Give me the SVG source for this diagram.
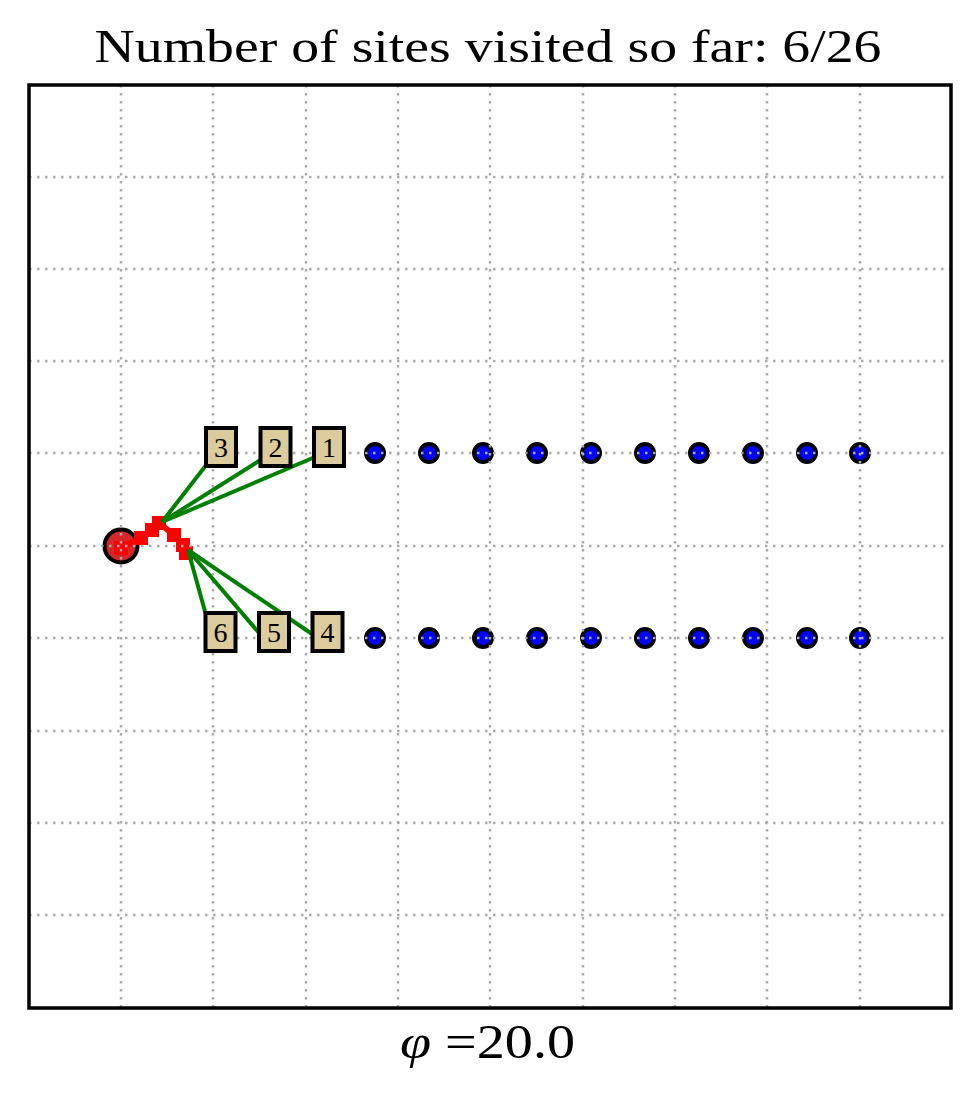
<svg xmlns="http://www.w3.org/2000/svg" width="980" height="1093" viewBox="0 0 980 1093">
<style>
.grid{stroke:#aaaaaa;stroke-width:2.5;stroke-dasharray:2.5,5.5;fill:none}
.site{fill:#0000ff;stroke:#000;stroke-width:4}
.box{fill:#dccb9d;stroke:#000;stroke-width:4}
.lbl{font-family:'Liberation Serif','DejaVu Serif',serif;font-size:28px;text-anchor:middle;fill:#000}
.conn{stroke:#008000;stroke-width:4;fill:none}
.sq{fill:#ff0000}
.ttl{font-family:'Liberation Serif','DejaVu Serif',serif;fill:#000}
</style>
<rect width="980" height="1093" fill="#fff"/>
<text class="ttl" x="488" y="62" font-size="47" text-anchor="middle" textLength="787" lengthAdjust="spacingAndGlyphs">Number of sites visited so far: 6/26</text>
<g id="sites">
<circle class="site" cx="375" cy="453" r="9"/><circle class="site" cx="429" cy="453" r="9"/><circle class="site" cx="483" cy="453" r="9"/><circle class="site" cx="537" cy="453" r="9"/><circle class="site" cx="591" cy="453" r="9"/><circle class="site" cx="645" cy="453" r="9"/><circle class="site" cx="699" cy="453" r="9"/><circle class="site" cx="753" cy="453" r="9"/><circle class="site" cx="807" cy="453" r="9"/><circle class="site" cx="860" cy="453" r="9"/>
<circle class="site" cx="375" cy="638" r="9"/><circle class="site" cx="429" cy="638" r="9"/><circle class="site" cx="483" cy="638" r="9"/><circle class="site" cx="537" cy="638" r="9"/><circle class="site" cx="591" cy="638" r="9"/><circle class="site" cx="645" cy="638" r="9"/><circle class="site" cx="699" cy="638" r="9"/><circle class="site" cx="753" cy="638" r="9"/><circle class="site" cx="807" cy="638" r="9"/><circle class="site" cx="860" cy="638" r="9"/>
</g>
<g id="start">
<circle cx="121" cy="546" r="16.5" fill="#d62728" stroke="#000" stroke-width="4"/>
</g>
<g id="walker">
<polyline points="121,548 141,538 152,530 159,523 174,535 183,545 186,553" fill="none" stroke="#ff0000" stroke-width="6"/>
<rect class="sq" x="114" y="541" width="14" height="14"/>
<rect class="sq" x="134" y="531" width="14" height="14"/>
<rect class="sq" x="145" y="523" width="14" height="14"/>
<rect class="sq" x="152" y="516" width="14" height="14"/>
<rect class="sq" x="167" y="528" width="14" height="14"/>
<rect class="sq" x="176" y="538" width="14" height="14"/>
<rect class="sq" x="179" y="546" width="14" height="14"/>
</g>
<g id="grid">
<path class="grid" d="M121,85V1008M213,85V1008M306,85V1008M398,85V1008M490,85V1008M583,85V1008M675,85V1008M767,85V1008M860,85V1008"/>
<path class="grid" d="M29,177H951M29,269H951M29,361H951M29,453H951M29,546H951M29,638H951M29,731H951M29,823H951M29,915H951"/>
</g>
<g id="connectors">
<line class="conn" x1="162" y1="522" x2="207" y2="464"/>
<line class="conn" x1="162" y1="522" x2="262" y2="459"/>
<line class="conn" x1="162" y1="522" x2="315" y2="457"/>
<line class="conn" x1="188" y1="550" x2="206" y2="615"/>
<line class="conn" x1="188" y1="550" x2="260" y2="634"/>
<line class="conn" x1="188" y1="550" x2="315" y2="636"/>
</g>
<g id="node-3"><rect class="box" x="206" y="428" width="30" height="38"/><text class="lbl" x="221" y="457">3</text></g>
<g id="node-2"><rect class="box" x="260.5" y="428" width="30" height="38"/><text class="lbl" x="275.5" y="457">2</text></g>
<g id="node-1"><rect class="box" x="314" y="428" width="30" height="38"/><text class="lbl" x="329" y="457">1</text></g>
<g id="node-6"><rect class="box" x="205.5" y="613" width="30" height="38"/><text class="lbl" x="220.5" y="642">6</text></g>
<g id="node-5"><rect class="box" x="259" y="613" width="30" height="38"/><text class="lbl" x="274" y="642">5</text></g>
<g id="node-4"><rect class="box" x="312.5" y="613" width="30" height="38"/><text class="lbl" x="327.5" y="642">4</text></g>
<rect x="29" y="85" width="922" height="923" fill="none" stroke="#000" stroke-width="3.5"/>
<text class="ttl" x="400" y="1058" font-size="48" textLength="175" lengthAdjust="spacingAndGlyphs"><tspan font-style="italic">φ</tspan> =20.0</text>
</svg>
